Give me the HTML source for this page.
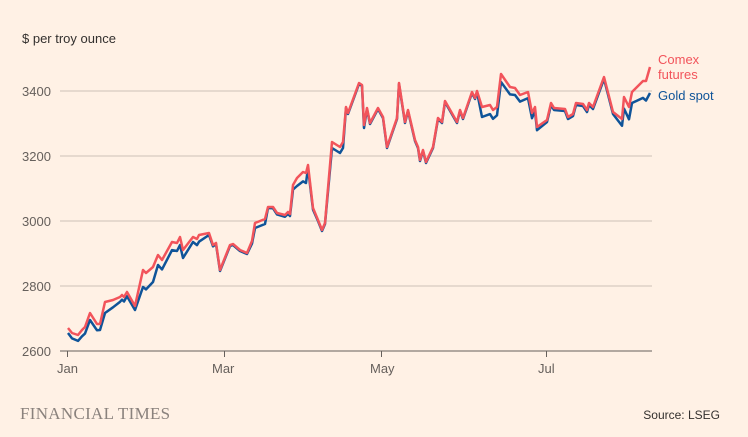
<!DOCTYPE html><html><head><style>
body{margin:0;background:#fff1e5;}
svg{display:block;font-family:"Liberation Sans",sans-serif;}
</style></head><body>
<svg width="748" height="437" viewBox="0 0 748 437">
<rect width="748" height="437" fill="#fff1e5"/>
<text x="22" y="43" font-size="13" fill="#33302e">$ per troy ounce</text>
<g stroke="#ccc1b7" stroke-width="1">
<line x1="60" y1="91" x2="652" y2="91"/><line x1="60" y1="156" x2="652" y2="156"/>
<line x1="60" y1="221" x2="652" y2="221"/><line x1="60" y1="286" x2="652" y2="286"/>
</g>
<line x1="60" y1="351" x2="652" y2="351" stroke="#66605c" stroke-width="1"/>
<g stroke="#66605c"><line x1="67.5" y1="351" x2="67.5" y2="357"/><line x1="224.5" y1="351" x2="224.5" y2="357"/><line x1="381.5" y1="351" x2="381.5" y2="357"/><line x1="546.5" y1="351" x2="546.5" y2="357"/></g>
<g font-size="13" fill="#66605c">
<text x="22" y="96">3400</text><text x="22" y="161">3200</text><text x="22" y="226">3000</text><text x="22" y="291">2800</text><text x="22" y="356">2600</text>
<text x="57" y="373">Jan</text><text x="212" y="373">Mar</text><text x="370" y="373">May</text><text x="538" y="373">Jul</text>
</g>
<polyline id="b" fill="none" stroke="#0f5499" stroke-width="2.5" stroke-linejoin="round"/>
<polyline id="r" fill="none" stroke="#f2545b" stroke-width="2.5" stroke-linejoin="round"/>
<text x="658" y="64" font-size="13" fill="#f2545b">Comex</text>
<text x="658" y="79" font-size="13" fill="#f2545b">futures</text>
<text x="658" y="100" font-size="13" fill="#0f5499">Gold spot</text>
<text x="20" y="419" font-family="Liberation Serif,serif" font-size="17" fill="#8a827d" letter-spacing="0.3">FINANCIAL TIMES</text>
<text x="720" y="419" font-size="12" fill="#33302e" text-anchor="end">Source: LSEG</text>
</svg>
<script>
var r=[[68,328],[72,333],[78,335],[82,330],[85,327],[90,313],[97,324],[100,324],[105,302],[113,300],[120,297],[122,295],[124,297],[127,292],[135,306],[143,270],[146,273],[153,267],[158,255],[162,260],[172,242],[177,243],[180,237],[183,250],[193,237],[197,239],[199,235],[209,233],[213,245],[216,243],[220,270],[230,245],[233,244],[240,250],[247,253],[252,241],[255,223],[265,219],[268,207],[273,207],[277,213],[285,215],[288,212],[290,214],[293,185],[297,178],[303,172],[306,173],[308,165],[313,208],[318,220],[322,230],[325,223],[332,142],[340,147],[343,142],[346,107],[348,113],[359,83],[362,85],[364,125],[367,108],[370,123],[378,108],[383,117],[387,147],[397,118],[399,83],[405,122],[408,110],[415,140],[418,147],[420,160],[423,150],[426,162],[433,147],[438,118],[442,122],[445,101],[457,122],[460,110],[463,118],[472,92],[475,98],[477,91],[482,107],[490,105],[493,110],[497,107],[501,74],[510,87],[515,88],[520,95],[528,92],[532,113],[535,107],[537,127],[547,120],[551,103],[554,108],[565,109],[568,117],[573,114],[576,103],[583,104],[587,110],[589,103],[593,107],[604,77],[613,112],[622,119],[624,97],[629,107],[632,92],[643,81],[646,81],[650,67]];
var d=[[0,5],[68,5],[90,7],[100,6],[104,6],[105,11],[118,5],[130,4],[136,4],[140,12],[143,17],[153,15],[158,10],[173,8],[185,8],[193,5],[200,7],[209,2],[215,1],[250,1],[255,5],[265,5],[268,1],[290,2],[297,8],[306,10],[308,3],[315,1],[325,1],[332,6],[343,6],[346,1],[362,1],[364,3],[366,1],[478,1],[482,10],[500,8],[530,6],[540,2],[620,2],[625,14],[632,11],[645,18],[650,26],[700,26]];
function off(x){for(var i=0;i<d.length-1;i++){if(x>=d[i][0]&&x<=d[i+1][0]){var t=(x-d[i][0])/(d[i+1][0]-d[i][0]);return d[i][1]+t*(d[i+1][1]-d[i][1]);}}return 0;}
document.getElementById('r').setAttribute('points',r.map(p=>p.join(',')).join(' '));
document.getElementById('b').setAttribute('points',r.map(p=>p[0]+','+(p[1]+off(p[0]))).join(' '));
</script>
</body></html>
